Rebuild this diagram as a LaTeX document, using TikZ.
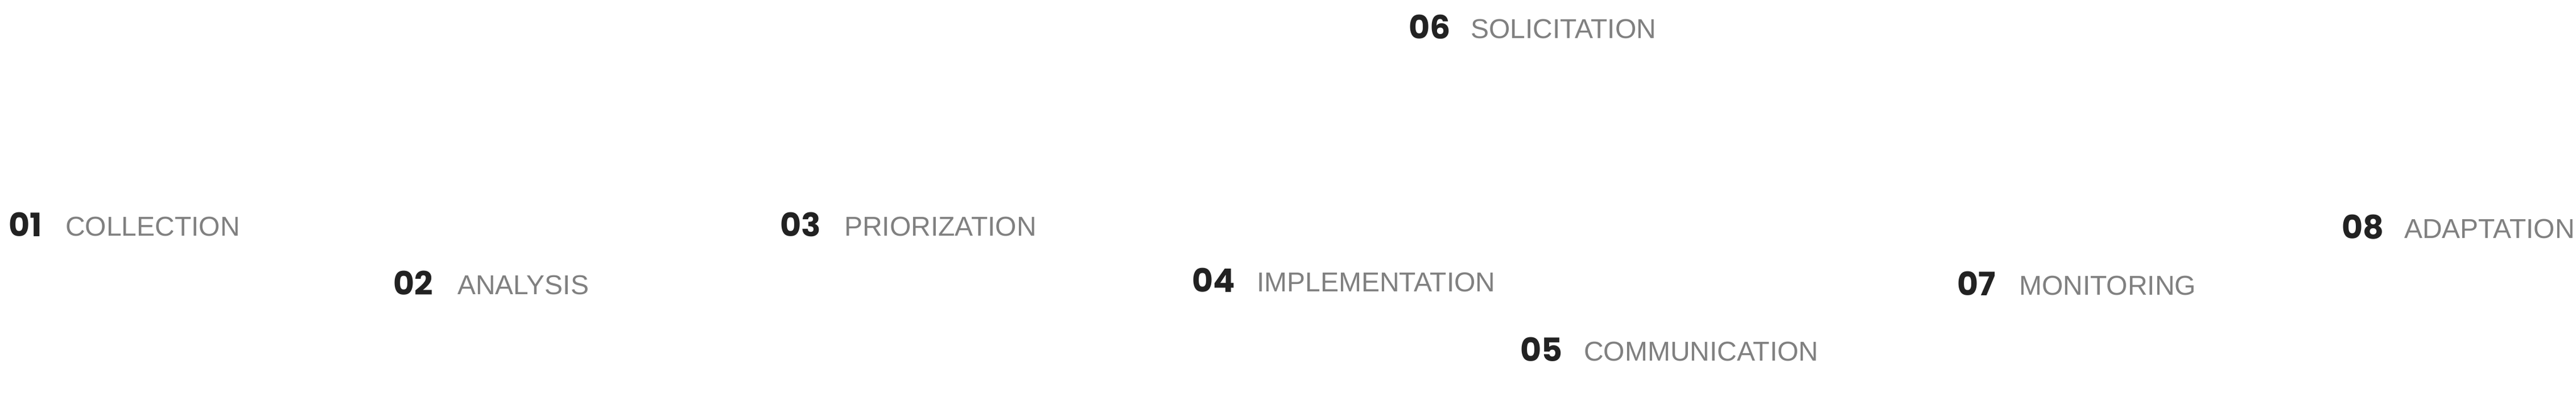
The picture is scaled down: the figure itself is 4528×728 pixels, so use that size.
\documentclass[tikz,border=0pt]{standalone}
\usepackage{fontspec}
\setmainfont{Liberation Sans}
\newfontfamily\numfont{Poppins}
\definecolor{numcol}{HTML}{222222}
\definecolor{lblcol}{HTML}{808080}
\tikzset{
  num/.style={anchor=base west, inner sep=0pt, outer sep=0pt, text=numcol,
    font=\numfont\bfseries\fontsize{57}{60}\selectfont},
  lbl/.style={anchor=base west, inner sep=0pt, outer sep=0pt, text=lblcol,
    font=\fontsize{48}{50}\selectfont}
}
\begin{document}
\begin{tikzpicture}[x=1pt,y=-1pt]
\fill[white] (0,0) rectangle (4528,728);
\useasboundingbox (0,0) rectangle (4528,728);
% 01
\node[num] (n1) at (15,416) {01};
\node[lbl] (l1) at (115,415) {COLLECTION};
% 02
\node[num] (n2) at (691,519) {02};
\node[lbl] (l2) at (804,518) {ANALYSIS};
% 03
\node[num] (n3) at (1371,416) {03};
\node[lbl] (l3) at (1484,415) {PRIORIZATION};
% 04
\node[num] (n4) at (2095,514) {04};
\node[lbl] (l4) at (2209,513) {IMPLEMENTATION};
% 05
\node[num] (n5) at (2672,636) {05};
\node[lbl] (l5) at (2784,635) {COMMUNICATION};
% 06
\node[num] (n6) at (2476,68) {06};
\node[lbl] (l6) at (2585,67) {SOLICITATION};
% 07
\node[num] (n7) at (3440,520) {07};
\node[lbl] (l7) at (3549,519) {MONITORING};
% 08
\node[num] (n8) at (4116,420) {08};
\node[lbl] (l8) at (4226,419) {ADAPTATION};
\end{tikzpicture}
\end{document}
